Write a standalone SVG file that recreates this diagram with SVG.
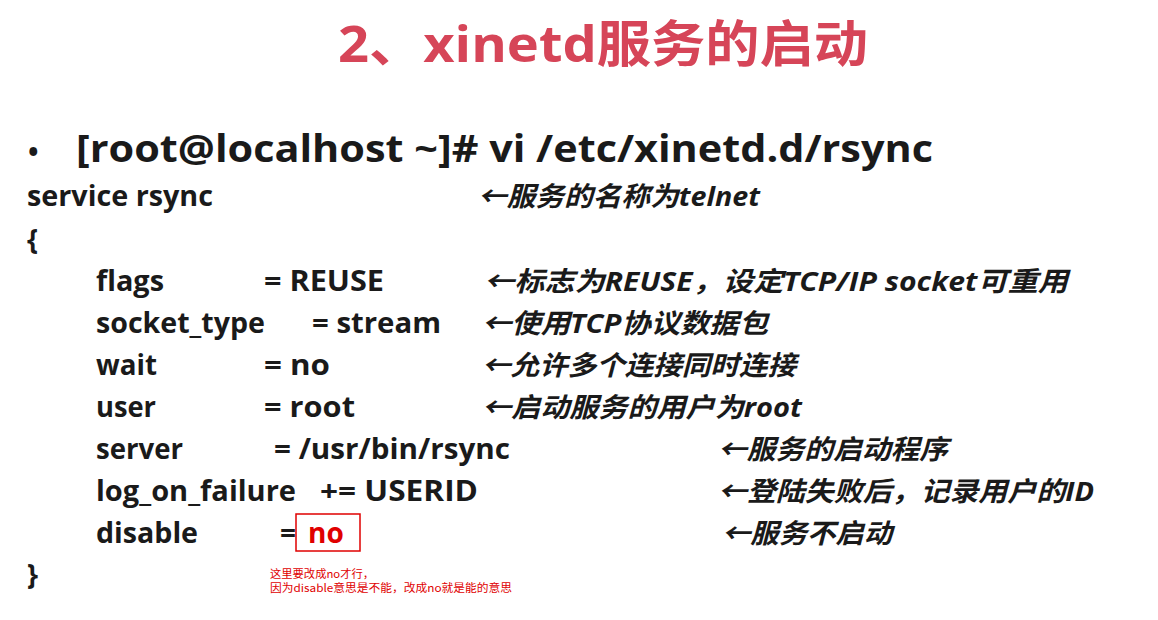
<svg xmlns="http://www.w3.org/2000/svg" width="1158" height="620" viewBox="0 0 1158 620">
<style>
.t{font-family:"Open Sans","Noto Sans CJK SC",sans-serif;font-weight:bold;font-size:28px;fill:#1a1a1a}
.c{font-family:"Open Sans","Noto Sans CJK SC",sans-serif;font-weight:bold;font-style:italic;font-size:27px;fill:#1a1a1a}
.n{font-family:"Noto Sans CJK SC",sans-serif;font-size:11px;fill:#e00000}
</style>
<rect width="1158" height="620" fill="#ffffff"/>
<text x="338" y="62" textLength="530" lengthAdjust="spacingAndGlyphs" font-family="'Open Sans','Noto Sans CJK SC',sans-serif" font-weight="bold" font-size="50" fill="#d64558">2、xinetd服务的启动</text>
<text class="t" x="28" y="162" font-size="34">•</text>
<text class="t" x="76" y="162" textLength="857" lengthAdjust="spacingAndGlyphs" style="font-size:38px">[root@localhost ~]# vi /etc/xinetd.d/rsync</text>
<text class="t" x="27" y="206" textLength="186" lengthAdjust="spacingAndGlyphs">service rsync</text>
<text class="c" x="478" y="206" textLength="282" lengthAdjust="spacingAndGlyphs">←服务的名称为telnet</text>
<text class="t" x="27" y="250">{</text>
<text class="t" x="96" y="291" textLength="68" lengthAdjust="spacingAndGlyphs">flags</text><text class="t" x="264" y="291" textLength="120" lengthAdjust="spacingAndGlyphs">= REUSE</text>
<text class="c" x="484" y="291" textLength="584" lengthAdjust="spacingAndGlyphs">←标志为REUSE，设定TCP/IP  socket可重用</text>
<text class="t" x="96" y="333" textLength="169" lengthAdjust="spacingAndGlyphs">socket_type</text><text class="t" x="312" y="333" textLength="129" lengthAdjust="spacingAndGlyphs">= stream</text>
<text class="c" x="482" y="333" textLength="286" lengthAdjust="spacingAndGlyphs">←使用TCP协议数据包</text>
<text class="t" x="96" y="375" textLength="61" lengthAdjust="spacingAndGlyphs">wait</text><text class="t" x="264" y="375" textLength="66" lengthAdjust="spacingAndGlyphs">= no</text>
<text class="c" x="482" y="375" textLength="314" lengthAdjust="spacingAndGlyphs">←允许多个连接同时连接</text>
<text class="t" x="96" y="417" textLength="60" lengthAdjust="spacingAndGlyphs">user</text><text class="t" x="264" y="417" textLength="91" lengthAdjust="spacingAndGlyphs">= root</text>
<text class="c" x="482" y="417" textLength="320" lengthAdjust="spacingAndGlyphs">←启动服务的用户为root</text>
<text class="t" x="96" y="459" textLength="87" lengthAdjust="spacingAndGlyphs">server</text><text class="t" x="274" y="459" textLength="236" lengthAdjust="spacingAndGlyphs">= /usr/bin/rsync</text>
<text class="c" x="718" y="459" textLength="230" lengthAdjust="spacingAndGlyphs">←服务的启动程序</text>
<text class="t" x="96" y="501" textLength="200" lengthAdjust="spacingAndGlyphs">log_on_failure</text><text class="t" x="320" y="501" textLength="158" lengthAdjust="spacingAndGlyphs">+= USERID</text>
<text class="c" x="718" y="501" textLength="376" lengthAdjust="spacingAndGlyphs">←登陆失败后，记录用户的ID</text>
<text class="t" x="96" y="543" textLength="102" lengthAdjust="spacingAndGlyphs">disable</text><text class="t" x="280" y="543">=</text>
<rect x="296" y="514" width="64" height="37" fill="none" stroke="#e00000" stroke-width="1.5"/>
<text class="t" x="308" y="543" style="fill:#e00000">no</text>
<text class="c" x="722" y="543" textLength="170" lengthAdjust="spacingAndGlyphs">←服务不启动</text>
<text class="t" x="27" y="585">}</text>
<text class="n" x="270" y="578" textLength="104" lengthAdjust="spacingAndGlyphs">这里要改成no才行，</text>
<text class="n" x="270" y="592" textLength="242" lengthAdjust="spacingAndGlyphs">因为disable意思是不能，改成no就是能的意思</text>
</svg>
